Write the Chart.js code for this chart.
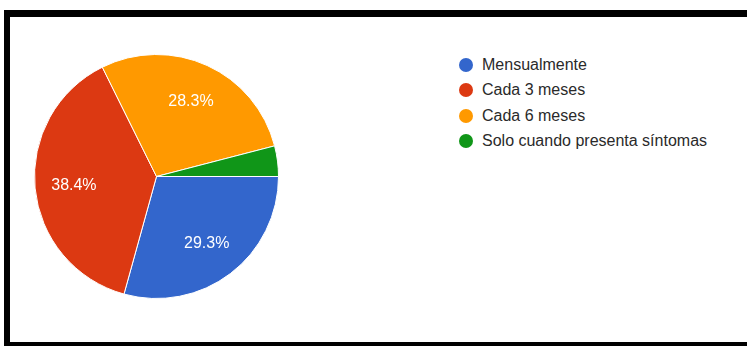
<!DOCTYPE html>
<html>
<head>
<meta charset="utf-8">
<script src="https://cdn.jsdelivr.net/npm/chart.js@4"></script>
<style>
    html, body { margin: 0; padding: 0; background: #fff; overflow: hidden; }
    body { width: 747px; height: 346px; position: relative; font-family: Arial, "Liberation Sans", sans-serif; }
    .frame {
        position: absolute; left: 4px; top: 10px; right: -20px; height: 325px;
        border-top: 7px solid #000; border-left: 6px solid #000; border-bottom: 6px solid #000;
        background: #fff;
    }
    #pieBox { position: absolute; left: 34px; top: 53.5px; width: 245px; height: 245px; }
    #legend { position: absolute; left: 459px; top: 52px; margin: 0; padding: 0; list-style: none; }
    #legend li { height: 25.3px; line-height: 25px; font-size: 16px; color: #2a2a2a; white-space: nowrap; }
    #legend .dot { display: inline-block; width: 14px; height: 14px; border-radius: 50%; vertical-align: -2px; margin-right: 9px; }
</style>
</head>
<body>
<div class="frame"></div>
<div id="pieBox"><canvas id="freqChart"></canvas></div>
<ul id="legend"></ul>
<script>
    // respuestas por frecuencia
    const categories = ['Mensualmente', 'Cada 3 meses', 'Cada 6 meses', 'Solo cuando presenta síntomas'];
    const responses = [29, 38, 28, 4];
    const sliceColors = ['#3366cc', '#dc3912', '#ff9900', '#109618'];

    const total = responses.reduce((a, b) => a + b, 0);

    // etiquetas de porcentaje dentro de cada porción
    const sliceLabels = {
        id: 'sliceLabels',
        afterDatasetsDraw(chart) {
            const ctx = chart.ctx;
            const meta = chart.getDatasetMeta(0);
            ctx.save();
            ctx.font = '16px Arial, "Liberation Sans", sans-serif';
            ctx.fillStyle = '#fff';
            ctx.textAlign = 'center';
            ctx.textBaseline = 'middle';
            meta.data.forEach((arc, i) => {
                const pct = responses[i] / total * 100;
                if (pct < 5) return;
                const p = arc.getProps(['x', 'y', 'startAngle', 'endAngle', 'outerRadius'], true);
                const mid = (p.startAngle + p.endAngle) / 2;
                const r = p.outerRadius * 0.68;
                ctx.fillText(pct.toFixed(1) + '%', p.x + Math.cos(mid) * r, p.y + Math.sin(mid) * r + 1);
            });
            ctx.restore();
        }
    };

    new Chart(document.getElementById('freqChart'), {
        type: 'pie',
        data: {
            labels: categories,
            datasets: [{
                data: responses,
                backgroundColor: sliceColors,
                borderColor: '#fff',
                borderWidth: 1
            }]
        },
        options: {
            responsive: true,
            maintainAspectRatio: false,
            animation: false,
            rotation: 90,
            plugins: {
                legend: { display: false },
                tooltip: { enabled: false }
            }
        },
        plugins: [sliceLabels]
    });

    // leyenda
    const legend = document.getElementById('legend');
    categories.forEach((name, i) => {
        const li = document.createElement('li');
        const dot = document.createElement('span');
        dot.className = 'dot';
        dot.style.background = sliceColors[i];
        li.appendChild(dot);
        li.appendChild(document.createTextNode(name));
        legend.appendChild(li);
    });
</script>
</body>
</html>
